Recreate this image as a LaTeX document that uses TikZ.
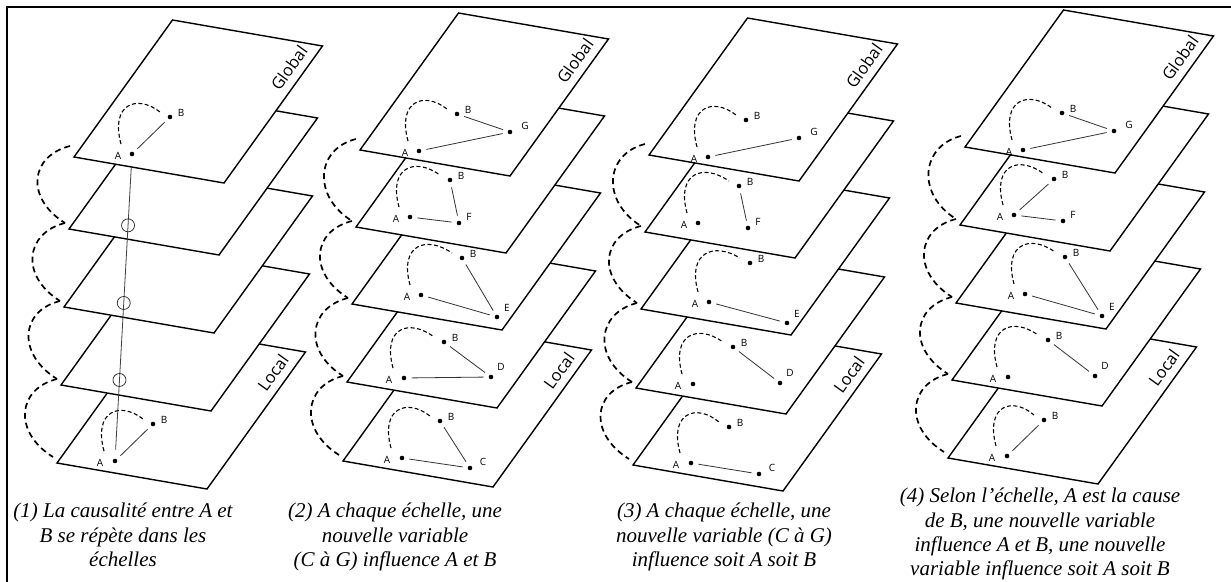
\documentclass[tikz,border=0pt]{standalone}
\usepackage{fontspec}
\setmainfont{Liberation Serif}
\newfontfamily\labfont{Open Sans}
\usetikzlibrary{calc}
\newcommand{\drawplane}[2]{\draw[plane] (#2) coordinate (#1) -- ++(150,26) -- ++(98.5,-137) -- ++(-150,-26) -- cycle;}
\newcommand{\vdot}[4]{\node[dotnode] (#1) at (#2) {}; \node[lbl] (#1t) at ($(#1)+(#4)$) {#3};}
\newcommand{\abarc}[2]{\draw[arcd] ($(#1)+(-11,-10)$) .. controls ($(#1)+(-22,-50)$) and ($(#1)+(5,-60)$) .. ($(#2)+(-10,-5)$);}
\newcommand{\bigarcs}[5]{%
  \draw[bigarc] ($(#1)+(-4,-11)$) .. controls +(-40,10) and +(-40,-25) .. ($(#2)+(-4,-6)$);
  \draw[bigarc] ($(#2)+(-4,-6)$) .. controls +(-40,10) and +(-40,-25) .. ($(#3)+(-4,-6)$);
  \draw[bigarc] ($(#3)+(-4,-6)$) .. controls +(-40,10) and +(-40,-25) .. ($(#4)+(-4,-6)$);
  \draw[bigarc] ($(#4)+(-4,-6)$) .. controls +(-40,10) and +(-40,-25) .. ($(#5)+(-4,-6)$);}
\begin{document}
\begin{tikzpicture}[x=1pt,y=-1pt,
  plane/.style={draw=black, line width=1.4pt, fill=white, line join=miter},
  dotnode/.style={circle, fill=black, inner sep=0pt, minimum size=4.6pt},
  lbl/.style={font=\labfont\fontsize{10}{12}\selectfont, inner sep=0pt},
  link/.style={line width=0.8pt, draw=black!80, shorten <=5pt, shorten >=5pt},
  arcd/.style={dash pattern=on 4pt off 2.5pt, line width=1.1pt},
  bigarc/.style={dash pattern=on 6pt off 4pt, line width=1.7pt},
  scalelbl/.style={font=\labfont\fontsize{16.5}{18}\selectfont, rotate=54.3, inner sep=0pt},
  capt/.style={font=\fontsize{21}{24.3}\selectfont\itshape, align=center, inner sep=0pt, anchor=north},
  vline/.style={line width=0.8pt, draw=black!75, shorten <=9pt, shorten >=11pt},
  ring/.style={circle, draw=black!85, line width=0.7pt, minimum size=13pt, inner sep=0pt}]
\useasboundingbox (0,0) rectangle (1231,581);
\clip (0,0) rectangle (1231,581);
\fill[white] (0,0) rectangle (1231,581);
\draw[line width=2.5pt] (7,600) -- (7,7) -- (1240,7);

% ---------------- Panel 1
\drawplane{p1L5}{57,463}
\vdot{p1a5}{115,461}{A}{-15,2}
\vdot{p1b5}{153,424}{B}{11,-4}
\abarc{p1a5}{p1b5}
\draw[link] (p1a5) -- (p1b5);
\node[scalelbl] (p1loc) at ($(p1L5)+(216,-90)$) {Local};
\drawplane{p1L4}{61,385}
\drawplane{p1L3}{64,307}
\drawplane{p1L2}{69,229}
\drawplane{p1L1}{74,157}
\vdot{p1a1}{132,154}{A}{-14,2}
\vdot{p1b1}{170,117}{B}{11,-4}
\abarc{p1a1}{p1b1}
\draw[link] (p1a1) -- (p1b1);
\node[scalelbl] (p1glob) at ($(p1L1)+(215,-89)$) {Global};
\bigarcs{p1L1}{p1L2}{p1L3}{p1L4}{p1L5}
\draw[vline] (p1a5) -- (p1a1)
  node[ring, pos=0.26] (p1r4) {}
  node[ring, pos=0.515] (p1r3) {}
  node[ring, pos=0.772] (p1r2) {};

% ---------------- Panel 2
\drawplane{p2L5}{343,461}
\vdot{p2a5}{402,458}{A}{-15,2}
\vdot{p2b5}{440,421}{B}{11,-4}
\vdot{p2c5}{470,468}{C}{13,-6}
\abarc{p2a5}{p2b5}
\draw[link] (p2a5) -- (p2c5);
\draw[link] (p2b5) -- (p2c5);
\node[scalelbl] (p2loc) at ($(p2L5)+(216,-90)$) {Local};
\drawplane{p2L4}{347,382}
\vdot{p2a4}{404,378}{A}{-15,2}
\vdot{p2b4}{444,342}{B}{11,-4}
\vdot{p2d4}{491,377}{D}{10,-10}
\abarc{p2a4}{p2b4}
\draw[link] (p2a4) -- (p2d4);
\draw[link] (p2b4) -- (p2d4);
\drawplane{p2L3}{352,304}
\vdot{p2a3}{421,295}{A}{-14,2}
\vdot{p2b3}{462,258}{B}{11,-4}
\vdot{p2e3}{497,317}{E}{10,-9}
\abarc{p2a3}{p2b3}
\draw[link] (p2a3) -- (p2e3);
\draw[link] (p2b3) -- (p2e3);
\drawplane{p2L2}{356,227}
\vdot{p2a2}{410,217}{A}{-14,2}
\vdot{p2b2}{450,180}{B}{11,-4}
\vdot{p2f2}{459,223}{F}{10,-6}
\abarc{p2a2}{p2b2}
\draw[link] (p2a2) -- (p2f2);
\draw[link] (p2b2) -- (p2f2);
\drawplane{p2L1}{360,150}
\vdot{p2a1}{419,151}{A}{-14,2}
\vdot{p2b1}{457,114}{B}{11,-4}
\vdot{p2g1}{510,132}{G}{15,-6}
\abarc{p2a1}{p2b1}
\draw[link] (p2a1) -- (p2g1);
\draw[link] (p2b1) -- (p2g1);
\node[scalelbl] (p2glob) at ($(p2L1)+(215,-89)$) {Global};
\bigarcs{p2L1}{p2L2}{p2L3}{p2L4}{p2L5}

% ---------------- Panel 3
\drawplane{p3L5}{633,465}
\vdot{p3a5}{691,463}{A}{-15,2}
\vdot{p3b5}{729,427}{B}{11,-4}
\vdot{p3c5}{759,474}{C}{13,-6}
\abarc{p3a5}{p3b5}
\draw[link] (p3a5) -- (p3c5);
\node[scalelbl] (p3loc) at ($(p3L5)+(216,-90)$) {Local};
\drawplane{p3L4}{636,388}
\vdot{p3a4}{693,384}{A}{-15,2}
\vdot{p3b4}{733,347}{B}{11,-4}
\vdot{p3d4}{780,383}{D}{10,-10}
\abarc{p3a4}{p3b4}
\draw[link] (p3b4) -- (p3d4);
\drawplane{p3L3}{641,309}
\vdot{p3a3}{709,302}{A}{-14,2}
\vdot{p3b3}{750,263}{B}{11,-4}
\vdot{p3e3}{787,323}{E}{10,-9}
\abarc{p3a3}{p3b3}
\draw[link] (p3a3) -- (p3e3);
\drawplane{p3L2}{645,232}
\vdot{p3a2}{698,223}{A}{-14,2}
\vdot{p3b2}{739,186}{B}{11,-4}
\vdot{p3f2}{748,228}{F}{10,-6}
\abarc{p3a2}{p3b2}
\draw[link] (p3b2) -- (p3f2);
\drawplane{p3L1}{649,155}
\vdot{p3a1}{708,157}{A}{-14,2}
\vdot{p3b1}{746,120}{B}{11,-4}
\vdot{p3g1}{799,138}{G}{15,-6}
\abarc{p3a1}{p3b1}
\draw[link] (p3a1) -- (p3g1);
\node[scalelbl] (p3glob) at ($(p3L1)+(215,-89)$) {Global};
\bigarcs{p3L1}{p3L2}{p3L3}{p3L4}{p3L5}

% ---------------- Panel 4
\drawplane{p4L5}{948,458}
\vdot{p4a5}{1007,456}{A}{-15,2}
\vdot{p4b5}{1044,420}{B}{11,-4}
\abarc{p4a5}{p4b5}
\draw[link] (p4a5) -- (p4b5);
\node[scalelbl] (p4loc) at ($(p4L5)+(216,-90)$) {Local};
\drawplane{p4L4}{952,380}
\vdot{p4a4}{1008,377}{A}{-15,2}
\vdot{p4b4}{1048,340}{B}{11,-4}
\vdot{p4d4}{1095,376}{D}{10,-10}
\abarc{p4a4}{p4b4}
\draw[link] (p4b4) -- (p4d4);
\drawplane{p4L3}{956,303}
\vdot{p4a3}{1025,294}{A}{-14,2}
\vdot{p4b3}{1065,257}{B}{11,-4}
\vdot{p4e3}{1102,316}{E}{10,-9}
\abarc{p4a3}{p4b3}
\draw[link] (p4a3) -- (p4e3);
\draw[link] (p4b3) -- (p4e3);
\drawplane{p4L2}{960,225}
\vdot{p4a2}{1014,215}{A}{-14,2}
\vdot{p4b2}{1054,179}{B}{11,-4}
\vdot{p4f2}{1063,221}{F}{10,-6}
\abarc{p4a2}{p4b2}
\draw[link] (p4a2) -- (p4b2);
\draw[link] (p4a2) -- (p4f2);
\drawplane{p4L1}{965,147}
\vdot{p4a1}{1023,150}{A}{-14,2}
\vdot{p4b1}{1062,113}{B}{11,-4}
\vdot{p4g1}{1114,131}{G}{15,-6}
\abarc{p4a1}{p4b1}
\draw[link] (p4a1) -- (p4g1);
\draw[link] (p4b1) -- (p4g1);
\node[scalelbl] (p4glob) at ($(p4L1)+(215,-89)$) {Global};
\bigarcs{p4L1}{p4L2}{p4L3}{p4L4}{p4L5}

% ---------------- Captions
\node[capt] (cap1) at (123,503) {(1) La causalité entre A et\\B se répète dans les\\échelles};
\node[capt] (cap2) at (395,503) {(2) A chaque échelle, une\\nouvelle variable\\(C à G) influence A et B};
\node[capt] (cap3) at (724,503) {(3) A chaque échelle, une\\nouvelle variable (C à G)\\influence soit A soit B};
\node[capt] (cap4) at (1040,488) {(4) Selon l’échelle, A est la cause\\de B, une nouvelle variable\\influence A et B, une nouvelle\\variable influence soit A soit B};
\end{tikzpicture}
\end{document}
